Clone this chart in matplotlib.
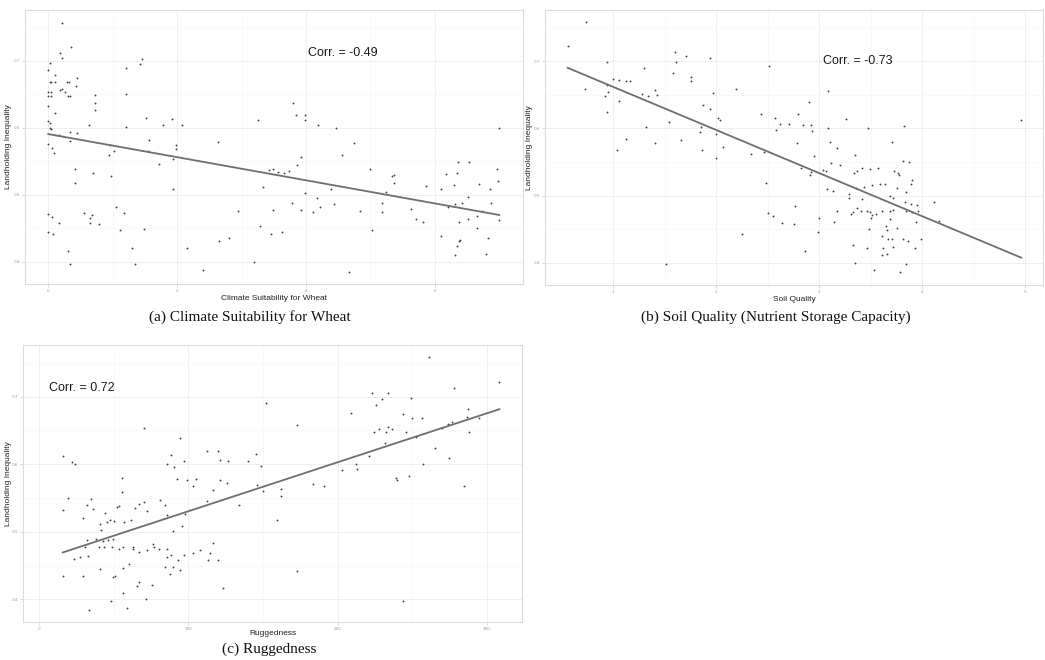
from __future__ import annotations

import matplotlib

matplotlib.use("Agg")
import matplotlib.pyplot as plt
import numpy as np

# (a) climate suitability for wheat vs landholding inequality
wheat_x = [
    0.22, 0.36, 0.18, 0.21, 0.02, 0.0, 0.10, 0.05, 0.03, 0.10, 0.29, 0.32, 0.44, 0.43, 0.18,
    0.22, 0.26, 0.0, 0.05, 0.0, 0.04, 0.31, 0.34, 0.10, 0.0, 0.0, 0.03, 0.02, 0.04, 0.17,
    0.34, 0.44, 0.33, 0.0, 0.06, 0.09, 0.41, 0.41, 0.0, 0.06, 0.16, 0.07, 0.0, 0.30, 0.33,
    0.56, 0.64, 0.68, 0.64, 0.78, 0.70, 0.63, 0.72, 0.73, 0.72, 1.21, 1.21, 1.21, 1.43, 1.45,
    1.52, 1.57, 1.54, 0.96, 1.02, 0.94, 0.97, 1.05, 1.18, 1.11, 1.30, 1.35, 1.48, 1.72, 1.78,
    1.92, 2.08, 1.93, 1.99, 1.99, 1.94, 2.16, 2.40, 2.63, 2.65, 2.81, 2.94,
    3.26, 3.80, 3.84, 3.98, 3.99, 4.19, 4.47, 4.75, 4.56, 3.92, 3.86, 3.34, 3.42, 3.48, 3.57,
    3.66, 3.74, 3.49, 3.78, 3.93, 3.99, 4.11, 4.17, 4.21, 4.39, 4.44, 3.29, 3.46, 3.62, 3.19,
    4.67, 4.84, 5.00, 5.02, 5.18, 5.18, 5.24, 5.33, 5.36, 5.36, 5.63, 5.71, 5.82, 5.87, 6.09,
    6.10, 6.17, 6.20, 6.30, 6.31, 6.34, 6.36, 6.53, 6.42, 6.51, 6.52, 6.38, 6.39, 6.37, 6.35,
    6.31, 6.66, 6.65, 6.69, 6.73, 6.85, 6.82, 6.79, 6.87, 6.96, 6.98, 7.00, 7.00,
]
wheat_y = [
    0.756, 0.720, 0.711, 0.704, 0.696, 0.687, 0.679, 0.669, 0.668, 0.668, 0.668, 0.668, 0.674, 0.662, 0.657,
    0.658, 0.653, 0.654, 0.654, 0.647, 0.647, 0.647, 0.648, 0.622, 0.632, 0.610, 0.607, 0.600, 0.598, 0.589,
    0.594, 0.592, 0.580, 0.576, 0.570, 0.563, 0.538, 0.517, 0.471, 0.467, 0.458, 0.441, 0.444, 0.416, 0.397,
    0.472, 0.466, 0.470, 0.458, 0.456, 0.533, 0.604, 0.649, 0.637, 0.626, 0.689, 0.650, 0.601, 0.695, 0.703,
    0.614, 0.582, 0.566, 0.574, 0.565, 0.559, 0.528, 0.482, 0.473, 0.448, 0.420, 0.397, 0.449, 0.546, 0.604,
    0.613, 0.604, 0.553, 0.575, 0.569, 0.508, 0.420, 0.387, 0.578, 0.431, 0.435, 0.476,
    0.612, 0.637, 0.619, 0.619, 0.611, 0.604, 0.599, 0.577, 0.559, 0.557, 0.544, 0.511, 0.537, 0.538, 0.534,
    0.533, 0.536, 0.477, 0.487, 0.477, 0.503, 0.474, 0.495, 0.482, 0.508, 0.486, 0.453, 0.441, 0.444, 0.400,
    0.385, 0.476, 0.539, 0.447, 0.488, 0.474, 0.504, 0.528, 0.530, 0.517, 0.478, 0.464, 0.460, 0.513, 0.509,
    0.438, 0.531, 0.481, 0.514, 0.486, 0.533, 0.549, 0.549, 0.488, 0.497, 0.464, 0.459, 0.433, 0.431, 0.424,
    0.410, 0.451, 0.468, 0.516, 0.476, 0.509, 0.435, 0.412, 0.487, 0.539, 0.521, 0.462, 0.600,
]

# (b) soil quality vs landholding inequality
soil_x = [
    0.56, 0.74, 0.73, 0.94, 0.94, 0.95, 0.92, 0.94, 1.00, 1.06, 1.06, 1.13, 1.16, 1.04, 1.13,
    1.30, 1.28, 1.34, 1.32, 1.41, 1.43, 1.41, 1.54, 1.58, 1.60, 1.61, 1.71, 1.76, 1.76, 1.66,
    1.87, 1.94, 1.94, 1.97, 2.02, 2.04, 1.85, 1.84, 1.86, 2.00, 2.00, 2.07, 2.19, 2.25, 2.34,
    2.46, 2.51, 2.48, 2.50, 2.55, 2.64, 1.51, 2.44, 2.57, 2.62, 2.71, 2.58,
    3.09, 2.90, 2.79, 2.84, 2.92, 2.93, 3.09, 3.26, 3.47, 3.82, 2.78, 3.10, 3.17, 3.71, 2.95,
    3.35, 2.82, 2.92, 2.91, 3.04, 3.07, 3.11, 3.20, 3.34, 3.37, 3.42, 3.49, 3.57, 3.73, 3.76,
    3.77, 3.81, 3.87, 3.90, 3.89, 3.08, 3.13, 3.29, 3.36, 3.43, 3.51, 3.59, 3.64, 3.75, 3.29,
    3.42, 3.69, 3.72, 3.84, 3.83, 3.89, 3.95, 4.11, 2.77, 2.76, 3.00, 3.14, 3.17, 3.33, 3.31,
    3.37, 3.41, 3.46, 3.49, 3.51, 3.55, 3.50, 3.61, 3.69, 3.72, 3.69, 3.84, 3.90, 3.96, 3.94,
    4.16, 2.99, 3.48, 3.65, 3.75, 3.66, 3.61, 3.67, 3.71, 3.81, 3.86, 3.99, 2.86, 3.33, 3.46,
    3.62, 3.66, 3.61, 3.72, 3.93, 3.35, 3.84, 3.53, 3.78, 4.96,
]
soil_y = [
    0.723, 0.758, 0.659, 0.699, 0.664, 0.654, 0.648, 0.625, 0.674, 0.672, 0.640, 0.670, 0.671, 0.568, 0.584,
    0.689, 0.651, 0.648, 0.602, 0.657, 0.650, 0.578, 0.609, 0.682, 0.714, 0.698, 0.707, 0.677, 0.670, 0.582,
    0.635, 0.629, 0.705, 0.653, 0.616, 0.612, 0.602, 0.594, 0.568, 0.592, 0.556, 0.572, 0.659, 0.443, 0.562,
    0.565, 0.692, 0.519, 0.474, 0.469, 0.459, 0.398, 0.622, 0.616, 0.606, 0.606, 0.597,
    0.656, 0.639, 0.621, 0.605, 0.605, 0.596, 0.601, 0.614, 0.601, 0.603, 0.578, 0.579, 0.571, 0.580, 0.559,
    0.561, 0.541, 0.535, 0.530, 0.538, 0.536, 0.549, 0.546, 0.533, 0.537, 0.541, 0.540, 0.541, 0.536, 0.534,
    0.530, 0.551, 0.550, 0.523, 0.517, 0.510, 0.507, 0.502, 0.511, 0.513, 0.516, 0.518, 0.518, 0.511, 0.496,
    0.495, 0.499, 0.496, 0.505, 0.490, 0.488, 0.486, 0.490, 0.484, 0.458, 0.467, 0.461, 0.477, 0.475, 0.472,
    0.481, 0.477, 0.477, 0.475, 0.471, 0.472, 0.467, 0.477, 0.477, 0.479, 0.465, 0.477, 0.476, 0.477, 0.461,
    0.463, 0.446, 0.450, 0.455, 0.452, 0.449, 0.440, 0.435, 0.436, 0.436, 0.433, 0.436, 0.417, 0.427, 0.422,
    0.422, 0.413, 0.412, 0.423, 0.422, 0.400, 0.398, 0.389, 0.386, 0.613,
]

# (c) ruggedness vs landholding inequality
rugged_x = [
    15.9, 21.9, 24.3, 19.6, 16.3, 31.9, 34.6, 29.5, 36.4, 44.2, 40.6, 45.3, 47.6, 50.2, 52.5,
    53.6, 55.6, 55.6, 56.7, 61.6, 64.3, 67.2, 70.3, 72.1, 70.3, 81.1, 84.2, 86.0, 88.2, 90.2,
    94.5, 97.4, 98.9, 92.7, 105.0, 102.9, 97.8, 96.0, 90.0, 85.7, 32.4, 31.0, 27.7, 23.4, 32.6,
    38.0, 40.2, 43.8, 41.3, 43.1, 46.4, 49.3, 48.7, 53.6, 56.5, 62.7, 62.7, 67.0, 72.1, 76.1,
    77.0, 80.6, 85.5, 85.5, 88.2, 90.0, 84.4, 93.3, 97.4, 102.9, 107.9, 114.6, 116.3, 113.4, 120.1,
    123.0, 112.3, 119.7, 121.3, 126.8, 140.0, 145.4, 148.7, 145.8, 152.1, 16.3, 29.5, 40.9, 50.7, 49.3,
    56.5, 60.5, 56.5, 65.4, 67.2, 75.5, 71.5, 48.5, 33.5, 59.2, 87.5, 94.5, 112.3, 116.8, 121.3,
    125.7, 134.0, 150.3,
    261.5, 308.4, 278.2, 222.9, 234.0, 230.0, 226.0, 249.2, 209.2, 244.1, 249.7, 256.3, 224.6, 227.8, 232.5,
    233.6, 236.3, 245.6, 252.3, 231.8, 287.6, 286.9, 294.8, 274.2, 270.2, 276.4, 288.1, 265.3, 274.7, 257.5,
    221.3, 212.4, 213.3, 202.8, 239.4, 240.1, 248.1, 284.7, 183.8, 190.9, 162.3, 161.9, 159.2, 172.8, 172.8,
    244.1,
]
rugged_y = [
    0.612, 0.603, 0.600, 0.550, 0.532, 0.540, 0.549, 0.521, 0.533, 0.528, 0.512, 0.514, 0.517, 0.516, 0.536,
    0.538, 0.579, 0.559, 0.514, 0.518, 0.535, 0.541, 0.544, 0.531, 0.654, 0.547, 0.540, 0.600, 0.613, 0.596,
    0.639, 0.605, 0.577, 0.578, 0.578, 0.568, 0.527, 0.509, 0.501, 0.525, 0.488, 0.478, 0.462, 0.460, 0.464,
    0.489, 0.478, 0.478, 0.502, 0.487, 0.488, 0.490, 0.477, 0.474, 0.477, 0.478, 0.474, 0.470, 0.473, 0.482,
    0.477, 0.474, 0.474, 0.462, 0.465, 0.448, 0.448, 0.459, 0.465, 0.468, 0.473, 0.468, 0.484, 0.458, 0.458,
    0.417, 0.619, 0.620, 0.606, 0.604, 0.605, 0.615, 0.597, 0.569, 0.691, 0.435, 0.434, 0.445, 0.435, 0.433,
    0.446, 0.452, 0.410, 0.420, 0.426, 0.421, 0.400, 0.398, 0.385, 0.387, 0.438, 0.444, 0.546, 0.562, 0.577,
    0.572, 0.539, 0.560,
    0.758, 0.722, 0.712, 0.705, 0.706, 0.697, 0.688, 0.698, 0.676, 0.674, 0.669, 0.668, 0.648, 0.652, 0.648,
    0.655, 0.652, 0.648, 0.640, 0.632, 0.681, 0.670, 0.668, 0.660, 0.654, 0.663, 0.648, 0.624, 0.609, 0.600,
    0.612, 0.600, 0.593, 0.591, 0.580, 0.577, 0.583, 0.567, 0.571, 0.567, 0.563, 0.553, 0.517, 0.658, 0.442,
    0.397,
]

y_ticks = [0.4, 0.5, 0.6, 0.7]
wheat_ticks = [0, 2, 4, 6]
soil_ticks = [1, 2, 3, 4, 5]
rugged_ticks = [0, 100, 200, 300]

SANS = ["Liberation Sans", "DejaVu Sans"]
SERIF = ["Liberation Serif", "DejaVu Serif"]


def draw_panel(ax, x, y, xlim, xticks, xlabel, corr_text, corr_xy, ylab_x, xlab_y):
    x = np.asarray(x, dtype=float)
    y = np.asarray(y, dtype=float)
    ax.set_facecolor("white")
    ax.set_axisbelow(True)

    # faint ggplot-style grid
    ax.set_xticks(xticks)
    ax.set_yticks(y_ticks)
    minor_x = [(a + b) / 2 for a, b in zip(xticks[:-1], xticks[1:])]
    ax.set_xticks(minor_x, minor=True)
    ax.set_yticks([0.45, 0.55, 0.65, 0.75], minor=True)
    ax.grid(True, which="major", color="#ececec", linewidth=0.6)
    ax.grid(True, which="minor", color="#f5f5f5", linewidth=0.4)
    ax.tick_params(which="minor", length=0)
    ax.tick_params(which="major", length=2, width=0.5, color="#c8c8c8",
                   labelsize=3, labelcolor="#9a9a9a", pad=1.5)

    for side in ax.spines.values():
        side.set_color("#dcdcdc")
        side.set_linewidth(0.8)

    ax.scatter(x, y, s=1.8, color="#404040", linewidths=0, zorder=3)

    slope, intercept = np.polyfit(x, y, 1)
    line_x = np.array([x.min(), x.max()])
    ax.plot(line_x, slope * line_x + intercept, color="#6e6e6e", linewidth=1.3, zorder=4)

    ax.text(corr_xy[0], corr_xy[1], corr_text, ha="center", va="center",
            fontsize=9, family=SANS, color="#1a1a1a")

    ax.set_xlim(*xlim)
    ax.set_ylim(0.367, 0.776)
    ax.set_xlabel(xlabel, fontsize=6, family=SANS, color="#222222")
    ax.set_ylabel("Landholding Inequality", fontsize=6, family=SANS, color="#222222")
    ax.xaxis.set_label_coords(0.5, xlab_y)
    ax.yaxis.set_label_coords(ylab_x, 0.5)


def main() -> None:
    fig = plt.figure(figsize=(10.45, 6.6), dpi=100)
    fig.patch.set_facecolor("white")

    ax_a = fig.add_axes([0.024, 0.570, 0.476, 0.415])
    ax_b = fig.add_axes([0.5215, 0.568, 0.4765, 0.417])
    ax_c = fig.add_axes([0.022, 0.058, 0.4775, 0.419])

    draw_panel(ax_a, wheat_x, wheat_y, (-0.36, 7.36), wheat_ticks,
               "Climate Suitability for Wheat", "Corr. = -0.49", (4.57, 0.712), -0.026, -0.04)
    draw_panel(ax_b, soil_x, soil_y, (0.34, 5.17), soil_ticks,
               "Soil Quality", "Corr. = -0.73", (3.37, 0.70), -0.024, -0.04)
    draw_panel(ax_c, rugged_x, rugged_y, (-10.7, 323.5), rugged_ticks,
               "Ruggedness", "Corr. = 0.72", (28.8, 0.712), -0.022, -0.03)

    fig.text(0.2395, 0.519, "(a) Climate Suitability for Wheat", ha="center", va="center",
             fontsize=11, family=SERIF, color="#111111")
    fig.text(0.742, 0.519, "(b) Soil Quality (Nutrient Storage Capacity)", ha="center", va="center",
             fontsize=11, family=SERIF, color="#111111")
    fig.text(0.258, 0.016, "(c) Ruggedness", ha="center", va="center",
             fontsize=11, family=SERIF, color="#111111")

    fig.savefig("out.png", dpi=100, facecolor="white")
    plt.close(fig)


if __name__ == "__main__":
    main()
